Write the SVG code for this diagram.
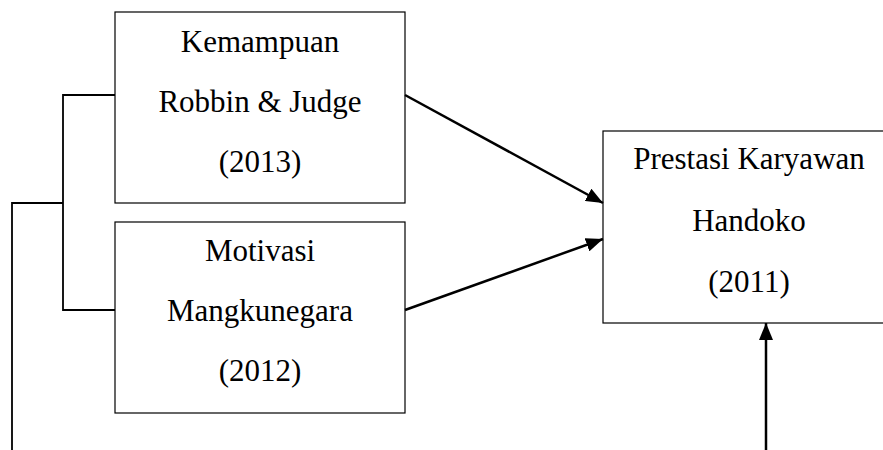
<svg xmlns="http://www.w3.org/2000/svg" width="883" height="450" viewBox="0 0 883 450">
<style>
.box{fill:#fff;stroke:#000;stroke-width:1.2}
.t{font-family:"Liberation Serif","Times New Roman",serif;font-size:31px;fill:#000;text-anchor:middle}
.ln{fill:none;stroke:#000;stroke-width:1.8}
.ar{fill:none;stroke:#000;stroke-width:2.5}
</style>
<defs>
<marker id="ah" markerWidth="17" markerHeight="14" refX="17" refY="7" orient="auto" markerUnits="userSpaceOnUse">
<path d="M0,0 L17,7 L0,14 Z" fill="#000"/>
</marker>
</defs>
<g id="n1">
<rect class="box" x="115" y="12" width="290" height="191"/>
<text class="t" x="260" y="52">Kemampuan</text>
<text class="t" x="260" y="112">Robbin &amp; Judge</text>
<text class="t" x="260" y="172">(2013)</text>
</g>
<g id="n2">
<rect class="box" x="115" y="222" width="290" height="191"/>
<text class="t" x="260" y="261">Motivasi</text>
<text class="t" x="260" y="321">Mangkunegara</text>
<text class="t" x="260" y="381">(2012)</text>
</g>
<g id="n3">
<rect class="box" x="603" y="131" width="290" height="192"/>
<text class="t" x="749" y="169">Prestasi Karyawan</text>
<text class="t" x="749" y="231">Handoko</text>
<text class="t" x="749" y="292">(2011)</text>
</g>
<g id="connectors">
<polyline class="ln" points="115,95 63,95 63,310 115,310"/>
<polyline class="ln" points="63,203 12,203 12,450"/>
<line class="ar" x1="405" y1="95" x2="603" y2="203" marker-end="url(#ah)"/>
<line class="ar" x1="405" y1="310" x2="603" y2="239" marker-end="url(#ah)"/>
<line class="ar" x1="766" y1="450" x2="766" y2="323" marker-end="url(#ah)"/>
</g>
</svg>
